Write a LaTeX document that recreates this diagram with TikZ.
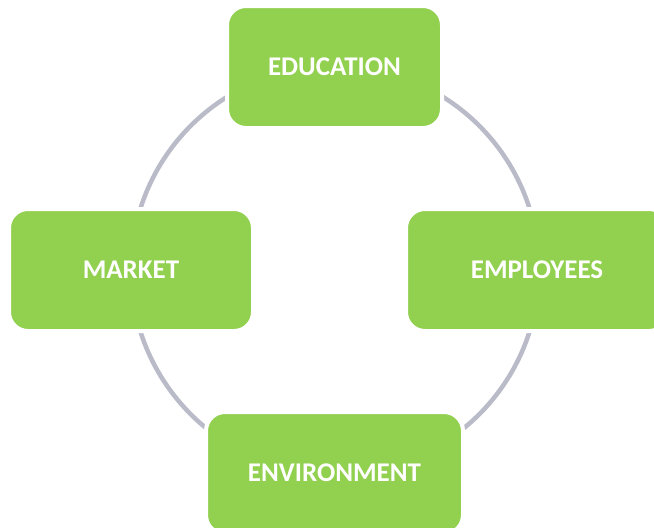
\documentclass[tikz,border=0pt]{standalone}
\usepackage{fontspec}
\setmainfont{Carlito}
\definecolor{boxgreen}{HTML}{92D050}
\definecolor{ring}{HTML}{BABBC8}

\begin{document}
\begin{tikzpicture}[
  x=1pt,
  y=-1pt,
  topic/.style={
    fill=boxgreen,
    draw=white,
    line width=4pt,
    rounded corners=19pt,
    minimum height=122pt,
    text=white,
    font=\fontsize{27}{31}\selectfont\bfseries,
    inner sep=0pt
  },
  line width=4.5pt
]
  \clip (0,0) rectangle (654,528);
  \useasboundingbox (0,0) rectangle (654,528);

  \coordinate (hub) at (335,270);
  \draw[ring] (hub) circle (204);

  \node[topic,minimum width=215pt] (education) at (334.5,67) {EDUCATION};
  \node[topic,minimum width=244pt] (market) at (131,270) {MARKET};
  \node[topic,minimum width=262pt] (employees) at (537,270) {EMPLOYEES};
  \node[topic,minimum width=257pt] (environment) at (334.5,473) {ENVIRONMENT};
\end{tikzpicture}
\end{document}
